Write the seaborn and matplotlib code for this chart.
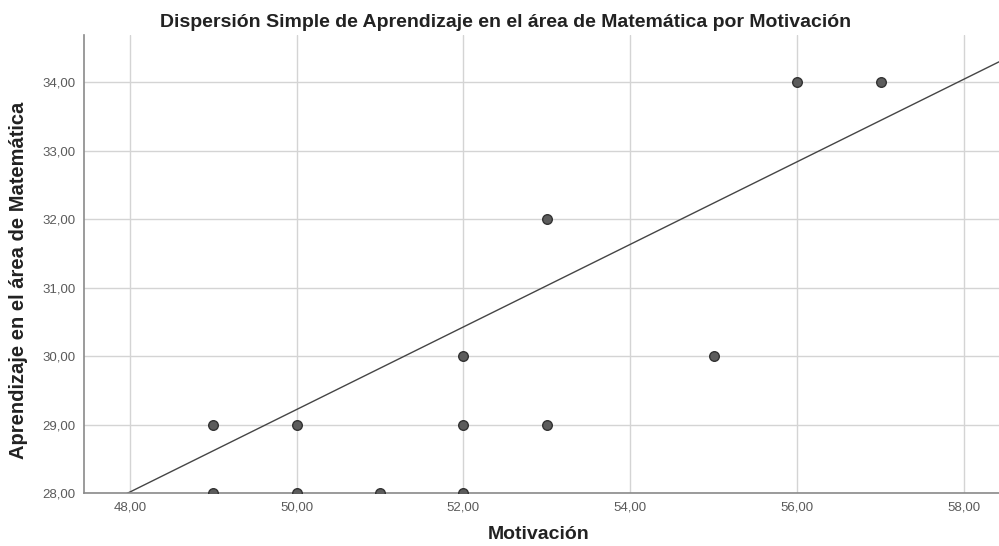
import numpy as np
import pandas as pd
import matplotlib
matplotlib.use("Agg")
import matplotlib.pyplot as plt
import seaborn as sns

# Datos
motivacion = [49, 49, 50, 50, 51, 52, 52, 52, 53, 53, 55, 56, 57]
aprendizaje = [29, 28, 29, 28, 28, 30, 29, 28, 32, 29, 30, 34, 34]
x_ticks = [48, 50, 52, 54, 56, 58]
y_ticks = [28, 29, 30, 31, 32, 33, 34]
# recta de ajuste
fit_intercept = -0.93
fit_slope = 0.603

df = pd.DataFrame({"Motivación": motivacion, "Aprendizaje": aprendizaje})

sns.set_style("white")
plt.rcParams["font.family"] = ["Liberation Sans", "DejaVu Sans"]

fig = plt.figure(figsize=(9.99, 5.46), dpi=100)
ax = fig.add_axes([0.084, 0.097, 0.916, 0.839])

ax.set_xlim(47.45, 58.42)
ax.set_ylim(28, 34.69)

sns.scatterplot(data=df, x="Motivación", y="Aprendizaje", ax=ax,
                s=48, color="#5c5c5c", edgecolor="#333333", linewidth=1.0, zorder=3)

xs = np.array([47.45, 58.42])
ax.plot(xs, fit_intercept + fit_slope * xs, color="#454545", lw=1.0, zorder=2)

ax.set_xticks(x_ticks)
ax.set_yticks(y_ticks)
ax.set_xticklabels([f"{v:.2f}".replace(".", ",") for v in x_ticks])
ax.set_yticklabels([f"{v:.2f}".replace(".", ",") for v in y_ticks])
ax.tick_params(axis="both", labelsize=9.5, colors="#5a5a5a", length=0, pad=6)

ax.grid(True, color="#d4d4d4", lw=1.0, zorder=0)
ax.set_axisbelow(True)
for s in ["top", "right"]:
    ax.spines[s].set_visible(False)
for s in ["left", "bottom"]:
    ax.spines[s].set_color("#8a8a8a")
    ax.spines[s].set_linewidth(1.2)

ax.set_xlabel("Motivación", fontsize=14, fontweight="bold", color="#222222")
ax.xaxis.set_label_coords(0.497, -0.073)
ax.set_ylabel("Aprendizaje en el área de Matemática", fontsize=14.5, fontweight="bold",
              color="#222222")
ax.yaxis.set_label_coords(-0.061, 0.465)
fig.text(0.506, 0.958, "Dispersión Simple de Aprendizaje en el área de Matemática por Motivación",
         ha="center", va="center", fontsize=14, fontweight="bold", color="#222222")

fig.savefig("out.png", dpi=100)
